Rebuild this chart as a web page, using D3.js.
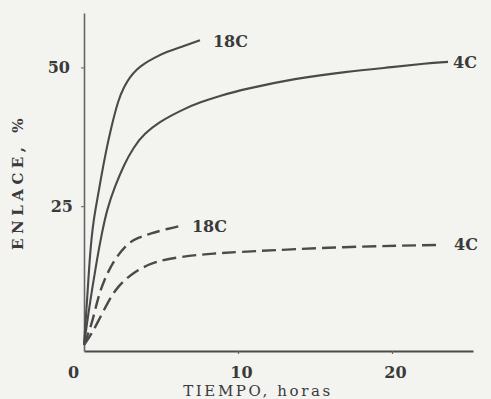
<!DOCTYPE html>
<html>
<head>
<meta charset="utf-8">
<script src="https://cdn.jsdelivr.net/npm/d3@7"></script>
<style>
  html, body { margin: 0; padding: 0; background: #f3f3f0; }
  svg { display: block; }
  text { font-family: "DejaVu Serif", "Liberation Serif", serif; fill: #3a3a3a; }
</style>
</head>
<body>
<svg id="chart" width="491" height="399"></svg>
<script>
// ---- data (hours, % binding) ----
const solid18C_t = [0, 0.2, 0.40, 0.62, 0.85, 1.10, 1.40, 1.75, 2.23, 2.60, 2.99, 3.45, 3.85, 4.60, 5.37, 6.43, 7.53];
const solid18C_v = [0, 8.0, 17.0, 22.5, 26.0, 30.0, 34.5, 39.0, 44.2, 46.5, 48.3, 49.7, 50.6, 51.8, 52.8, 53.8, 54.9];

const solid4C_t = [0, 0.25, 0.55, 0.85, 1.15, 1.50, 2.00, 2.60, 3.20, 3.90, 5.00, 5.58, 6.49, 7.53, 8.83, 10.45, 13.70, 16.95, 20.19, 22.14, 23.64];
const solid4C_v = [0, 5.0, 10.5, 15.5, 20.0, 24.5, 28.5, 32.5, 35.5, 38.1, 40.3, 41.2, 42.5, 43.7, 44.9, 46.1, 48.0, 49.2, 50.1, 50.7, 51.0];

const dash18C_t = [0, 0.30, 0.60, 0.90, 1.30, 1.95, 2.81, 3.51, 4.33, 5.40, 6.49];
const dash18C_v = [0, 2.2, 4.8, 8.4, 11.7, 15.3, 18.3, 19.3, 20.1, 20.9, 21.6];

const dash4C_t = [0, 0.45, 0.86, 1.51, 2.16, 3.25, 4.55, 6.28, 8.44, 10.45, 16.95, 22.99];
const dash4C_v = [0, 1.8, 3.9, 7.5, 10.5, 13.2, 15.0, 15.9, 16.5, 16.8, 17.7, 18.0];

const seriesNames = ["18C", "4C", "18C", "4C"];
const xTicks = [0, 10, 20];
const yTicks = [25, 50];
const xTitle = "TIEMPO, horas";
const yTitle = "ENLACE, %";

// ---- scales ----
const x = d3.scaleLinear().domain([0, 25.26]).range([84, 473]);
const y = d3.scaleLinear().domain([-1.1, 59.8]).range([351, 13]);

const svg = d3.select("#chart");
svg.append("rect").attr("width", 491).attr("height", 399).attr("fill", "#f3f3f0");

// ---- axes ----
const xAxis = svg.append("g")
  .attr("transform", `translate(0,${y(-1.1)})`)
  .call(d3.axisBottom(x).tickValues(xTicks).tickSize(3).tickSizeOuter(0).tickPadding(10));
xAxis.select(".domain").attr("stroke", "#4a4a4a").attr("stroke-width", 2);
xAxis.selectAll(".tick line").attr("stroke", "#666").attr("stroke-width", 1.2)
  .attr("opacity", d => d === 0 ? 0 : 1);
xAxis.selectAll(".tick text")
  .style("font-family", '"DejaVu Serif", serif')
  .style("font-size", "16px").style("font-weight", "bold").attr("fill", "#3a3a3a")
  .attr("dx", d => d === 0 ? -11 : 3).attr("dy", "0.9em");

const yAxis = svg.append("g")
  .attr("transform", `translate(${x(0)},0)`)
  .call(d3.axisLeft(y).tickValues(yTicks).tickSize(3).tickSizeOuter(0).tickPadding(10));
yAxis.select(".domain").attr("stroke", "#666").attr("stroke-width", 1.6);
yAxis.selectAll(".tick line").attr("stroke", "#777").attr("stroke-width", 1.2);
yAxis.selectAll(".tick text")
  .style("font-family", '"DejaVu Serif", serif')
  .style("font-size", "16px").style("font-weight", "bold").attr("fill", "#3a3a3a")
  .attr("dx", d => d === 25 ? 2 : -1);

// axis titles
svg.append("text")
  .attr("x", 258).attr("y", 396)
  .attr("text-anchor", "middle")
  .style("font-size", "15px").style("letter-spacing", "2.6px")
  .text(xTitle);

svg.append("text")
  .attr("transform", "translate(23,182) rotate(-90)")
  .attr("text-anchor", "middle")
  .style("font-size", "15px").style("font-weight", "bold").style("letter-spacing", "4.5px")
  .text(yTitle);

// ---- curves ----
const line = d3.line().x(d => x(d[0])).y(d => y(d[1])).curve(d3.curveBasis);
const zip = (a, b) => a.map((t, i) => [t, b[i]]);

const series = [
  { pts: zip(solid18C_t, solid18C_v), dash: null, name: seriesNames[0] },
  { pts: zip(solid4C_t, solid4C_v), dash: null, name: seriesNames[1] },
  { pts: zip(dash18C_t, dash18C_v), dash: "13,6", name: seriesNames[2] },
  { pts: zip(dash4C_t, dash4C_v), dash: "14,6", name: seriesNames[3] }
];

svg.selectAll("path.curve").data(series).enter().append("path")
  .attr("class", "curve")
  .attr("d", d => line(d.pts))
  .attr("fill", "none")
  .attr("stroke", "#4a4a4a")
  .attr("stroke-width", d => d.dash ? 2.4 : 2.1)
  .attr("stroke-dasharray", d => d.dash);

// end labels
const labelOffsets = [[13, 1], [5, 1], [8, 1], [16, -1]];
svg.selectAll("text.lbl").data(series).enter().append("text")
  .attr("class", "lbl")
  .attr("x", (d, i) => x(d.pts[d.pts.length - 1][0]) + labelOffsets[i][0])
  .attr("y", (d, i) => y(d.pts[d.pts.length - 1][1]) + labelOffsets[i][1])
  .attr("dy", "0.35em")
  .style("font-size", "16px").style("font-weight", "bold")
  .text(d => d.name);
</script>
</body>
</html>
